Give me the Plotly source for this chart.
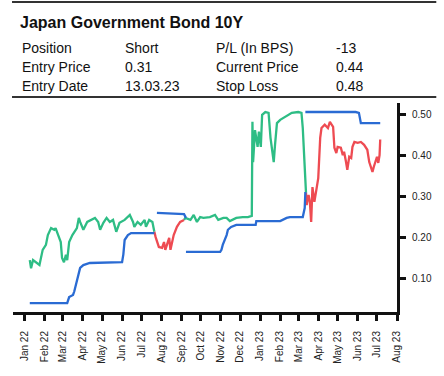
import plotly.graph_objects as go

# ---- data -------------------------------------------------------------
# 10Y JGB yield while flat (green)
flat_dates = [
    "2022-01-09", "2022-01-11", "2022-01-14", "2022-01-19", "2022-01-24", "2022-01-29",
    "2022-02-03", "2022-02-06", "2022-02-11", "2022-02-16", "2022-02-18", "2022-02-22",
    "2022-02-26", "2022-02-28", "2022-03-03", "2022-03-06", "2022-03-08", "2022-03-11",
    "2022-03-16", "2022-03-23", "2022-03-26", "2022-03-28", "2022-04-02", "2022-04-08",
    "2022-04-15", "2022-04-20", "2022-04-25", "2022-04-28", "2022-05-03", "2022-05-08",
    "2022-05-13", "2022-05-18", "2022-05-23", "2022-05-28", "2022-06-05", "2022-06-13",
    "2022-06-18", "2022-06-20", "2022-06-25", "2022-06-30", "2022-07-06", "2022-07-08",
    "2022-07-13", "2022-07-18", "2022-07-21", None,
    "2022-09-05", "2022-09-07", "2022-09-15", "2022-09-20", "2022-09-25", "2022-09-30",
    "2022-10-05", "2022-10-15", "2022-10-23", "2022-10-28", "2022-11-05", "2022-11-10",
    "2022-11-15", "2022-11-25", "2022-12-05", "2022-12-13", "2022-12-19", "2022-12-20",
    "2022-12-21", "2022-12-24", "2022-12-28", "2022-12-30", "2023-01-02", "2023-01-04",
    "2023-01-09", "2023-01-14", "2023-01-17", "2023-01-22", "2023-01-24", "2023-01-27",
    "2023-02-01", "2023-02-09", "2023-02-19", "2023-03-01", "2023-03-06", "2023-03-08",
    "2023-03-11", "2023-03-13",
]
flat_yield = [
    0.146, 0.126, 0.146, 0.139, 0.134, 0.171,
    0.183, 0.207, 0.224, 0.220, 0.224, 0.207,
    0.190, 0.151, 0.141, 0.159, 0.146, 0.190,
    0.207, 0.224, 0.249, 0.239, 0.220, 0.239,
    0.244, 0.249, 0.239, 0.220, 0.237, 0.249,
    0.239, 0.244, 0.215, 0.237, 0.244, 0.256,
    0.239, 0.227, 0.239, 0.232, 0.244, 0.227,
    0.244, 0.239, 0.215, None,
    0.244, 0.249, 0.244, 0.256, 0.239, 0.251,
    0.249, 0.251, 0.256, 0.244, 0.249, 0.249,
    0.241, 0.249, 0.251, 0.251, 0.254, 0.483,
    0.385, 0.463, 0.422, 0.459, 0.422, 0.500,
    0.507, 0.505, 0.444, 0.385, 0.427, 0.480,
    0.488, 0.495, 0.505, 0.507, 0.505, 0.468,
    0.385, 0.310,
]

# 10Y JGB yield while the short is on (red)
short_dates = [
    "2022-07-21", "2022-07-23", "2022-07-28", "2022-08-02", "2022-08-05", "2022-08-07",
    "2022-08-13", "2022-08-15", "2022-08-20", "2022-08-25", "2022-08-30", "2022-09-05", None,
    "2023-03-13", "2023-03-14", "2023-03-17", "2023-03-19", "2023-03-21", "2023-03-23",
    "2023-03-26", "2023-03-30", "2023-04-01", "2023-04-04", "2023-04-06", "2023-04-11",
    "2023-04-16", "2023-04-19", "2023-04-24", "2023-04-26", "2023-04-29", "2023-05-01",
    "2023-05-06", "2023-05-09", "2023-05-11", "2023-05-14", "2023-05-16", "2023-05-19",
    "2023-05-22", "2023-05-24", "2023-05-27", "2023-06-01", "2023-06-06", "2023-06-11",
    "2023-06-16", "2023-06-19", "2023-06-21", "2023-06-24", "2023-06-26", "2023-06-29",
    "2023-07-01", "2023-07-03", "2023-07-05", "2023-07-06",
]
short_yield = [
    0.215, 0.202, 0.178, 0.176, 0.190, 0.171,
    0.200, 0.171, 0.207, 0.227, 0.239, 0.244, None,
    0.310, 0.280, 0.305, 0.288, 0.239, 0.324,
    0.288, 0.322, 0.346, 0.444, 0.468, 0.476,
    0.468, 0.483, 0.471, 0.420, 0.407, 0.422,
    0.420, 0.402, 0.410, 0.385, 0.366, 0.398,
    0.395, 0.422, 0.434, 0.432, 0.434, 0.427,
    0.415, 0.385, 0.373, 0.361, 0.373, 0.390,
    0.398, 0.383, 0.402, 0.440,
]

# trailing stop / trigger level (blue)
stop_dates = [
    "2022-01-09", "2022-03-08", "2022-03-11", "2022-03-17", "2022-03-19", "2022-03-23",
    "2022-03-28", "2022-04-02", "2022-04-08", "2022-04-12", "2022-06-01", "2022-06-03",
    "2022-06-05", "2022-06-10", "2022-06-15", "2022-07-21", None,
    "2022-07-25", "2022-09-05", "2022-09-08", None,
    "2022-09-08", "2022-10-31", "2022-11-02", "2022-11-04", "2022-11-10", "2022-11-12",
    "2022-11-17", "2022-11-25", "2022-12-25", "2022-12-26", "2023-02-01", "2023-02-06",
    "2023-02-11", "2023-02-16", "2023-03-08", "2023-03-11", "2023-03-12", None,
    "2023-03-12", "2023-05-29", "2023-06-03", "2023-06-06", "2023-07-06",
]
stop_level = [
    0.041, 0.041, 0.056, 0.061, 0.070, 0.093,
    0.127, 0.134, 0.136, 0.139, 0.141, 0.160,
    0.195, 0.207, 0.212, 0.212, None,
    0.261, 0.258, 0.249, None,
    0.166, 0.166, 0.171, 0.183, 0.207, 0.220,
    0.227, 0.232, 0.232, 0.241, 0.241, 0.246,
    0.249, 0.251, 0.251, 0.273, 0.312, None,
    0.507, 0.507, 0.505, 0.480, 0.480,
]

y_ticks = [0.10, 0.20, 0.30, 0.40, 0.50]

title_text = "Japan Government Bond 10Y"
info_rows = [
    ["Position", "Short", "P/L (In BPS)", "-13"],
    ["Entry Price", "0.31", "Current Price", "0.44"],
    ["Entry Date", "13.03.23", "Stop Loss", "0.48"],
]

# ---- layout geometry (pixels) ----------------------------------------
W, H = 444, 376
ML, MR, MT, MB = 13, 40, 103, 64
PW, PH = W - ML - MR, H - MT - MB


def px_x(x):
    return (x - ML) / PW


def px_y(y):
    return (H - MB - y) / PH


FONT = "Liberation Sans, Arial, sans-serif"
GREEN = "#2EBD85"
RED = "#EE4B52"
BLUE = "#2A6BD3"

fig = go.Figure()
fig.add_trace(go.Scatter(x=flat_dates, y=flat_yield, mode="lines",
                         line=dict(color=GREEN, width=2.3), connectgaps=False))
fig.add_trace(go.Scatter(x=short_dates, y=short_yield, mode="lines",
                         line=dict(color=RED, width=2.3), connectgaps=False))
fig.add_trace(go.Scatter(x=stop_dates, y=stop_level, mode="lines",
                         line=dict(color=BLUE, width=2.3), connectgaps=False))

annotations = [
    dict(text=f"<b>{title_text}</b>", x=px_x(18), y=px_y(22), xref="paper", yref="paper",
         xanchor="left", yanchor="middle", showarrow=False,
         font=dict(family=FONT, size=16, color="#111111")),
]
col_x = [20, 125, 218, 340]
row_y = [48, 67, 86]
for r, row in enumerate(info_rows):
    for c, cell in enumerate(row):
        annotations.append(dict(
            text=cell, x=px_x(col_x[c]), y=px_y(row_y[r]), xref="paper", yref="paper",
            xanchor="left", yanchor="middle", showarrow=False,
            font=dict(family=FONT, size=14, color="#111111")))

shapes = [
    dict(type="line", xref="paper", yref="paper", x0=px_x(12), x1=px_x(444),
         y0=px_y(2), y1=px_y(2), line=dict(color="#333333", width=2)),
    dict(type="line", xref="paper", yref="paper", x0=px_x(12), x1=px_x(444),
         y0=px_y(97), y1=px_y(97), line=dict(color="#333333", width=2)),
]

fig.update_layout(
    width=W, height=H,
    margin=dict(l=ML, r=MR, t=MT, b=MB, pad=0),
    paper_bgcolor="white", plot_bgcolor="white",
    showlegend=False,
    annotations=annotations,
    shapes=shapes,
    xaxis=dict(
        type="date", range=["2021-12-14", "2023-08-01"],
        tick0="2022-01-01", dtick="M1", tickformat="%b %y", tickangle=-90,
        ticks="outside", ticklen=6, tickwidth=2.5, tickcolor="#111111",
        ticklabelstandoff=6,
        showline=True, linewidth=3, linecolor="#111111",
        showgrid=False, zeroline=False,
        tickfont=dict(family=FONT, size=10, color="#222222"),
    ),
    yaxis=dict(
        side="right", range=[0.0195, 0.529],
        tickvals=y_ticks, tickformat=".2f",
        ticks="outside", ticklen=6, tickwidth=2.5, tickcolor="#111111",
        ticklabelstandoff=4,
        showline=True, linewidth=3, linecolor="#111111",
        showgrid=False, zeroline=False,
        tickfont=dict(family=FONT, size=10, color="#222222"),
    ),
)

fig.write_html("out.html")
